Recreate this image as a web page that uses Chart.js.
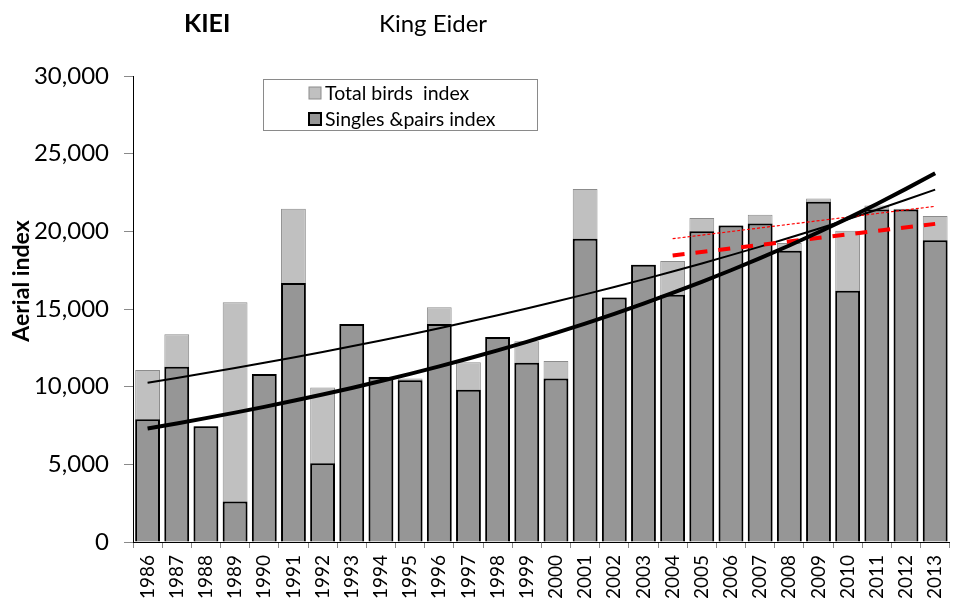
<!DOCTYPE html>
<html>
<head>
<meta charset="utf-8">
<script src="https://cdn.jsdelivr.net/npm/chart.js@4"></script>
<style>
  html, body { margin: 0; padding: 0; background: #fff; overflow: hidden; }
  #wrap { width: 959px; height: 598px; overflow: hidden; }
</style>
</head>
<body>
<div id="wrap"><canvas id="myChart" width="965" height="598"></canvas></div>
<script>
// DATA ---------------------------------------------------------------

const years = ['1986', '1987', '1988', '1989', '1990', '1991', '1992', '1993', '1994', '1995',
    '1996', '1997', '1998', '1999', '2000', '2001', '2002', '2003', '2004', '2005',
    '2006', '2007', '2008', '2009', '2010', '2011', '2012', '2013'];

const totalBirds = [11070, 13370, 7455, 15440, 10810, 21460, 9950, 14040, 10640, 10530,
    15120, 11570, 13200, 12920, 11650, 22730, 15740, 17850, 18090, 20860,
    20380, 21060, 19250, 22110, 20040, 21670, 21450, 20990];

const singlesPairs = [7910, 11280, 7455, 2610, 10810, 16670, 5070, 14040, 10620, 10420,
    14040, 9800, 13200, 11540, 10530, 19530, 15740, 17850, 15910, 20000,
    20380, 20510, 18750, 21910, 16170, 21400, 21400, 19420];

// exponential trend lines
const totalTrend = [10257, 10563, 10878, 11203, 11537, 11881, 12236, 12601, 12977, 13364,
    13763, 14173, 14596, 15032, 15480, 15942, 16418, 16908, 17412, 17932,
    18467, 19018, 19585, 20170, 20772, 21391, 22029, 22687];

const singlesTrend = [7307, 7633, 7974, 8329, 8701, 9089, 9495, 9918, 10361, 10823,
    11306, 11811, 12338, 12888, 13463, 14064, 14691, 15347, 16032, 16747,
    17494, 18275, 19090, 19942, 20832, 21761, 22732, 23746];

// short linear trends 2004-2013 (end points)
const recentYears = ['2004', '2013'];
const totalRecent = [19525, 21610];
const singlesRecent = [18450, 20480];

const yTicks = [0, 5000, 10000, 15000, 20000, 25000, 30000];

// PLUGINS ------------------------------------------------------------

const FONT = 'Lato, "Liberation Sans", sans-serif';

const textPlugin = {
    id: 'texts',
    afterDraw(chart) {
        const c = chart.ctx;
        c.save();
        c.fillStyle = '#000';
        c.textBaseline = 'alphabetic';
        c.textAlign = 'left';
        c.font = 'bold 25px ' + FONT;
        c.fillText('KIEI', 184, 32);
        c.font = '24px ' + FONT;
        c.fillText('King Eider', 379, 32);

        // y axis title
        c.translate(22, 281);
        c.rotate(-Math.PI / 2);
        c.textAlign = 'center';
        c.textBaseline = 'middle';
        c.font = 'bold 23px ' + FONT;
        c.fillText('Aerial index', 0, 0);
        c.restore();

        // legend box
        c.save();
        c.strokeStyle = '#8a8a8a';
        c.lineWidth = 1;
        c.fillStyle = '#fff';
        c.fillRect(263.5, 79.5, 274, 51);
        c.strokeRect(263.5, 79.5, 274, 51);
        const items = [
            { ds: chart.data.datasets[0], y: 93 },
            { ds: chart.data.datasets[1], y: 119 }
        ];
        items.forEach(it => {
            c.fillStyle = it.ds.backgroundColor;
            c.fillRect(309, it.y - 6, 12, 12);
            c.strokeStyle = it.ds.borderColor;
            c.lineWidth = it.ds.borderWidth;
            c.strokeRect(309, it.y - 6, 12, 12);
            c.fillStyle = '#000';
            c.font = '19.5px ' + FONT;
            c.textBaseline = 'middle';
            c.fillText(it.ds.label, 325, it.y + 1);
        });
        c.restore();
    }
};

// CHART --------------------------------------------------------------

const ctx = document.getElementById('myChart');

new Chart(ctx, {
    type: 'bar',
    data: {
        labels: years,
        datasets: [{
            label: 'Total birds  index',
            data: totalBirds,
            backgroundColor: '#c0c0c0',
            borderColor: '#8c8c8c',
            borderWidth: 1,
            grouped: false,
            barPercentage: 0.85,
            categoryPercentage: 1,
            order: 3
        }, {
            label: 'Singles &pairs index',
            data: singlesPairs,
            backgroundColor: '#969696',
            borderColor: '#000',
            borderWidth: 2,
            grouped: false,
            barPercentage: 0.85,
            categoryPercentage: 1,
            order: 2
        }, {
            type: 'line',
            label: 'total trend',
            data: totalTrend,
            borderColor: '#000',
            borderWidth: 2,
            pointRadius: 0,
            fill: false,
            order: 1
        }, {
            type: 'line',
            label: 'singles trend',
            data: singlesTrend,
            borderColor: '#000',
            borderWidth: 4,
            pointRadius: 0,
            fill: false,
            order: 0
        }, {
            type: 'line',
            label: 'total 2004-2013',
            data: recentYears.map((y, i) => ({ x: y, y: totalRecent[i] })),
            borderColor: '#ff0000',
            borderWidth: 1.2,
            borderDash: [3, 2],
            pointRadius: 0,
            fill: false,
            order: 0
        }, {
            type: 'line',
            label: 'singles 2004-2013',
            data: recentYears.map((y, i) => ({ x: y, y: singlesRecent[i] })),
            borderColor: '#ff0000',
            borderWidth: 4,
            borderDash: [12, 11],
            pointRadius: 0,
            fill: false,
            order: 0
        }]
    },
    options: {
        responsive: false,
        animation: false,
        layout: { padding: { top: 76, right: 2, left: 0, bottom: 0 } },
        plugins: {
            legend: { display: false },
            tooltip: { enabled: false }
        },
        scales: {
            x: {
                offset: true,
                grid: { offset: true, drawOnChartArea: false, tickLength: 6, color: '#8a8a8a' },
                border: { color: '#000', width: 1 },
                ticks: {
                    autoSkip: false,
                    minRotation: 90,
                    maxRotation: 90,
                    padding: 7,
                    color: '#000',
                    font: { family: FONT, size: 19 }
                },
                afterFit: s => { s.height = 56; }
            },
            y: {
                min: 0,
                max: 30000,
                afterBuildTicks: s => { s.ticks = yTicks.map(v => ({ value: v })); },
                grid: { drawOnChartArea: false, tickLength: 9, color: '#8a8a8a' },
                border: { color: '#000', width: 1 },
                ticks: {
                    padding: 15,
                    color: '#000',
                    font: { family: FONT, size: 24 },
                    callback: v => v.toLocaleString('en-US')
                },
                afterFit: s => { s.width = 133; }
            }
        }
    },
    plugins: [textPlugin]
});
</script>
</body>
</html>
